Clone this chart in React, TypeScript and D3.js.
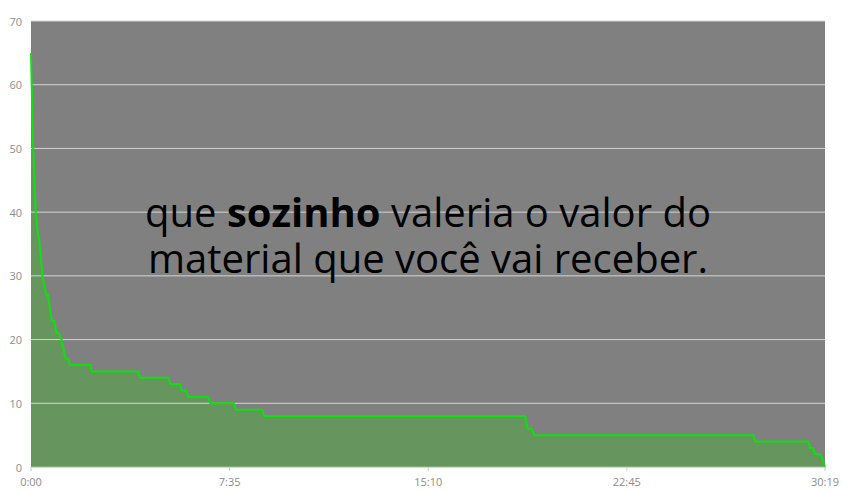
import * as d3 from 'd3';

const WIDTH = 847;
const HEIGHT = 492;
const MARGIN = { top: 21, right: 22, bottom: 25, left: 31 };

// seconds since start of the video
const times = [
    0, 1.6, 5, 11, 15, 19, 26, 35, 39, 47, 53, 59, 64, 70, 79, 85, 89, 137, 139,
    246, 250, 315, 319, 341, 345, 355, 360, 406, 410, 465, 469, 530, 534,
    1132, 1138, 1147, 1153, 1655, 1659, 1781, 1785, 1792, 1796, 1809, 1819,
];
// viewers still watching
const viewers = [
    65, 60, 50, 40, 37, 35.6, 30, 27, 27, 23, 23, 21, 21, 20, 17, 17, 16, 16, 15,
    15, 14, 14, 13, 13, 12, 12, 11, 11, 10, 10, 9, 9, 8,
    8, 6, 6, 5, 5, 4, 4, 3, 3, 2, 2, 0,
];

const yTicks = [0, 10, 20, 30, 40, 50, 60, 70];
const xTicks = [0, 455, 910, 1365, 1819];
const xTickLabels = ['0:00', '7:35', '15:10', '22:45', '30:19'];

const captionLine1 = ['que ', 'sozinho', ' valeria o valor do'];
const captionLine2 = 'material que você vai receber.';

type Point = { t: number; v: number };

export default function App() {
    const boundsWidth = WIDTH - MARGIN.left - MARGIN.right;
    const boundsHeight = HEIGHT - MARGIN.top - MARGIN.bottom;

    const data: Point[] = times.map((t, i) => ({ t, v: viewers[i] }));

    const xScale = d3.scaleLinear().domain([0, 1819]).range([0, boundsWidth]);
    const yScale = d3.scaleLinear().domain([0, 70]).range([boundsHeight, 0]);

    const area = d3
        .area<Point>()
        .x(d => xScale(d.t))
        .y0(yScale(0))
        .y1(d => yScale(d.v));
    const line = d3
        .line<Point>()
        .x(d => xScale(d.t))
        .y(d => yScale(d.v));

    const font = '"Open Sans", "Noto Sans", sans-serif';

    return (
        <div style={{ position: 'absolute', left: 0, top: 0 }}>
            <svg width={WIDTH} height={HEIGHT} style={{ display: 'block', background: '#fff' }}>
                <g transform={`translate(${MARGIN.left},${MARGIN.top})`}>
                    <rect x={0} y={0} width={boundsWidth} height={boundsHeight} fill="#808080" />
                    <path d={area(data) ?? ''} fill="#66955e" />
                    {yTicks.map(v => (
                        <g key={v}>
                            <line
                                x1={0}
                                x2={boundsWidth}
                                y1={yScale(v)}
                                y2={yScale(v)}
                                stroke={v === 0 ? '#9cc094' : '#d4d4d4'}
                                strokeWidth={1}
                            />
                            <text
                                x={-9}
                                y={yScale(v)}
                                textAnchor="end"
                                dominantBaseline="central"
                                fontSize={11}
                                fontFamily={font}
                                fill="#8c8c8c"
                            >
                                {v}
                            </text>
                        </g>
                    ))}
                    <path d={line(data) ?? ''} fill="none" stroke="#0ce20c" strokeWidth={2} strokeLinejoin="round" />
                    {xTicks.map((t, i) => (
                        <g key={t}>
                            <line
                                x1={xScale(t)}
                                x2={xScale(t)}
                                y1={boundsHeight}
                                y2={boundsHeight + 4}
                                stroke="#c8c8c8"
                            />
                            <text
                                x={xScale(t)}
                                y={boundsHeight + 14}
                                textAnchor="middle"
                                dominantBaseline="central"
                                fontSize={11}
                                fontFamily={font}
                                fill="#8c8c8c"
                            >
                                {xTickLabels[i]}
                            </text>
                        </g>
                    ))}
                    <text
                        x={boundsWidth / 2}
                        y={205.7}
                        textAnchor="middle"
                        fontSize={40}
                        fontFamily={font}
                        fill="#000"
                    >
                        <tspan>{captionLine1[0]}</tspan>
                        <tspan fontWeight="bold">{captionLine1[1]}</tspan>
                        <tspan>{captionLine1[2]}</tspan>
                    </text>
                    <text
                        x={boundsWidth / 2}
                        y={252.3}
                        textAnchor="middle"
                        fontSize={40}
                        fontFamily={font}
                        fill="#000"
                    >
                        {captionLine2}
                    </text>
                </g>
            </svg>
        </div>
    );
}
